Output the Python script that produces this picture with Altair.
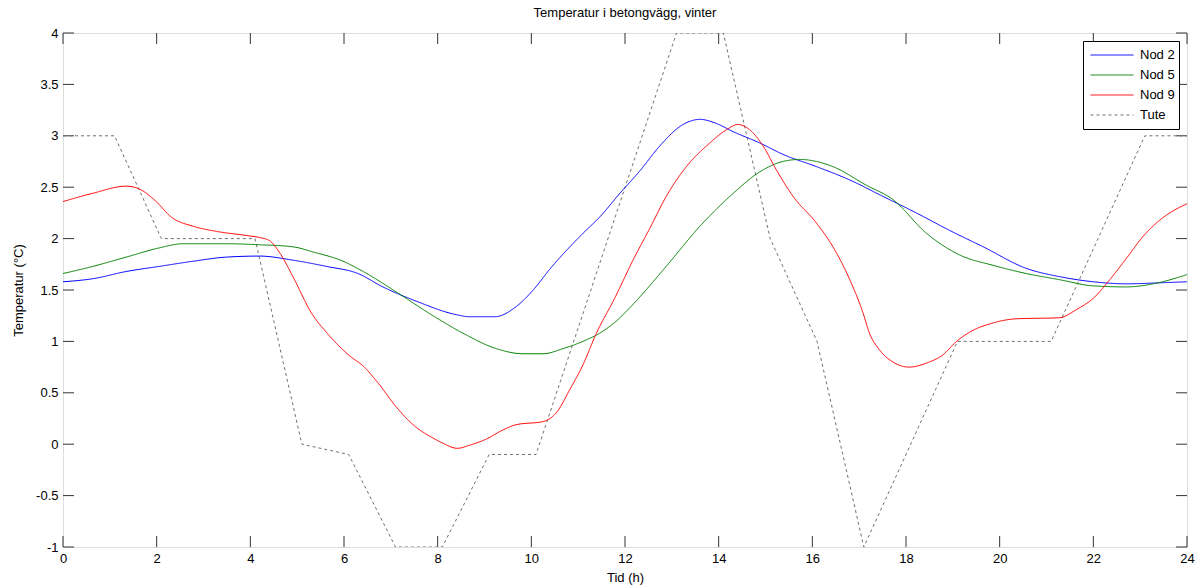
import altair as alt
import pandas as pd

# ---- data ----
nod2_t = [0, 0.64, 1.35, 2.06, 2.78, 3.49, 4.2, 4.91, 5.62, 6.3, 6.83, 7.55, 8.4, 8.68, 9.22, 9.68,
          10.04, 10.39, 11.1, 11.46, 11.89, 12.32, 12.74, 13.24, 13.6, 13.95, 14.31, 14.88, 15.37,
          16.09, 16.8, 17.51, 18.22, 18.93, 19.65, 20.57, 21.28, 22.0, 22.71, 23.42, 24]
nod2_v = [1.58, 1.61, 1.68, 1.73, 1.78, 1.82, 1.83, 1.79, 1.73, 1.66, 1.53, 1.39, 1.26, 1.24, 1.24, 1.34,
          1.50, 1.70, 2.05, 2.21, 2.44, 2.66, 2.90, 3.11, 3.16, 3.12, 3.04, 2.93, 2.82,
          2.70, 2.57, 2.41, 2.25, 2.08, 1.92, 1.71, 1.63, 1.58, 1.56, 1.57, 1.58]

nod5_t = [0, 0.64, 1.35, 2.06, 2.56, 3.49, 4.2, 4.91, 5.34, 5.98, 6.41, 7.12, 7.83, 8.54, 9.25, 9.82,
          10.25, 10.68, 11.1, 11.46, 11.82, 12.17, 12.88, 13.6, 14.31, 14.88, 15.37, 15.73, 16.44,
          17.15, 17.72, 18.44, 19.15, 19.86, 20.57, 21.28, 22.0, 22.71, 23.28, 24]
nod5_v = [1.66, 1.73, 1.82, 1.91, 1.95, 1.95, 1.94, 1.92, 1.87, 1.78, 1.68, 1.48, 1.27, 1.08, 0.93, 0.88,
          0.88, 0.93, 1.00, 1.08, 1.20, 1.36, 1.73, 2.12, 2.44, 2.65, 2.75, 2.77, 2.70,
          2.52, 2.38, 2.05, 1.84, 1.74, 1.66, 1.60, 1.54, 1.53, 1.56, 1.65]

nod9_t = [0, 0.63, 1.35, 1.64, 1.99, 2.31, 2.78, 3.28, 3.92, 4.2, 4.41, 4.63, 4.91, 5.3, 5.66, 6.12,
          6.41, 6.72, 7.12, 7.5, 7.9, 8.11, 8.42, 8.68, 9.04, 9.4, 9.68, 10.25, 10.54, 10.82, 11.1,
          11.39, 11.78, 12.17, 12.53, 12.88, 13.31, 13.81, 14.17, 14.41, 14.66, 14.95, 15.23, 15.59,
          16.09, 16.44, 16.8, 17.08, 17.22, 17.43, 17.72, 18.07, 18.44, 18.79, 19.08, 19.36, 19.86,
          20.36, 21.28, 21.64, 22.0, 22.35, 22.71, 23.06, 23.42, 24]
nod9_v = [2.36, 2.44, 2.51, 2.48, 2.36, 2.21, 2.12, 2.07, 2.03, 2.01, 1.98, 1.86, 1.63, 1.28, 1.07, 0.86,
          0.76, 0.60, 0.36, 0.18, 0.06, 0.01, -0.04, -0.01, 0.05, 0.14, 0.19, 0.22, 0.31, 0.53, 0.77,
          1.08, 1.42, 1.79, 2.10, 2.41, 2.70, 2.93, 3.06, 3.11, 3.06, 2.90, 2.67, 2.41,
          2.15, 1.92, 1.60, 1.28, 1.08, 0.92, 0.80, 0.75, 0.79, 0.87, 1.0, 1.09, 1.18,
          1.22, 1.23, 1.31, 1.42, 1.60, 1.81, 2.02, 2.18, 2.34]

tute_t = [0, 1.1, 2.1, 4.1, 5.1, 6.1, 7.1, 8.1, 9.1, 10.1, 13.1, 14.1, 15.1, 16.1, 17.1, 19.1, 21.1, 23.1, 24]
tute_v = [3, 3, 2, 2, 0, -0.1, -1, -1, -0.1, -0.1, 4, 4, 2, 1, -1, 1, 1, 3, 3]

series = ["Nod 2", "Nod 5", "Nod 9", "Tute"]
colors = ["#0000ff", "#008000", "#ff0000", "#707070"]
dashes = [[1, 0], [1, 0], [1, 0], [3, 3]]

x_ticks = list(range(0, 25, 2))
y_ticks = [-1, -0.5, 0, 0.5, 1, 1.5, 2, 2.5, 3, 3.5, 4]

title_text = "Temperatur i betongvägg, vinter"
x_title = "Tid (h)"
y_title = "Temperatur (°C)"

# ---- tables ----
smooth = pd.concat([
    pd.DataFrame({"t": nod2_t, "v": nod2_v, "serie": "Nod 2"}),
    pd.DataFrame({"t": nod5_t, "v": nod5_v, "serie": "Nod 5"}),
    pd.DataFrame({"t": nod9_t, "v": nod9_v, "serie": "Nod 9"}),
], ignore_index=True)
tute = pd.DataFrame({"t": tute_t, "v": tute_v, "serie": "Tute"})
xt = pd.DataFrame({"t": x_ticks})
yt = pd.DataFrame({"v": y_ticks})

W, H = 1124, 514
FONT = "Liberation Sans"
TICK = 11
TC = "#333333"

x_axis = alt.Axis(values=x_ticks, labelExpr="'' + datum.value", ticks=False, domain=False, grid=False,
                  labelFlush=False, labelPadding=5, labelFontSize=13, labelFont=FONT, labelColor="black",
                  title=x_title, titleFont=FONT, titleFontSize=13, titleFontWeight="normal",
                  titleColor="black", titleX=W / 2, titleY=30, titleBaseline="middle",
                  titleAlign="center")
y_axis = alt.Axis(values=y_ticks, labelExpr="'' + datum.value", ticks=False, domain=False, grid=False,
                  labelFlush=False, labelPadding=5, labelFontSize=13, labelFont=FONT, labelColor="black",
                  title=y_title, titleFont=FONT, titleFontSize=13, titleFontWeight="normal",
                  titleColor="black", titleX=-45, titleY=H / 2, titleAngle=270,
                  titleBaseline="middle", titleAlign="center")

x_scale = alt.Scale(domain=[0, 24], nice=False, zero=False)
y_scale = alt.Scale(domain=[-1, 4], nice=False, zero=False)

X = alt.X("t:Q", scale=x_scale, axis=x_axis)
Y = alt.Y("v:Q", scale=y_scale, axis=y_axis)

legend = alt.Legend(title=None, orient="none", legendX=1020, legendY=8, symbolType="stroke",
                    symbolSize=1849, symbolStrokeWidth=1, labelFontSize=13, labelFont=FONT,
                    labelColor="black", strokeColor="black", fillColor="white", padding=4,
                    clipHeight=20, rowPadding=0, symbolOffset=3, labelOffset=6)

color = alt.Color("serie:N", scale=alt.Scale(domain=series, range=colors), legend=legend)
dash = alt.StrokeDash("serie:N", scale=alt.Scale(domain=series, range=dashes), legend=legend)

smooth_lines = alt.Chart(smooth).mark_line(interpolate="monotone", strokeWidth=1, clip=True).encode(
    x=X, y=Y, color=color, strokeDash=dash, detail="serie:N")
tute_line = alt.Chart(tute).mark_line(interpolate="linear", strokeWidth=1, clip=True).encode(
    x=X, y=Y, color=color, strokeDash=dash)

xb = alt.Chart(xt).mark_rule(color=TC, strokeWidth=1).encode(x=X, y=alt.value(H), y2=alt.value(H - TICK))
xtop = alt.Chart(xt).mark_rule(color=TC, strokeWidth=1).encode(x=X, y=alt.value(0), y2=alt.value(TICK))
yl = alt.Chart(yt).mark_rule(color=TC, strokeWidth=1).encode(y=Y, x=alt.value(0), x2=alt.value(TICK))
yr = alt.Chart(yt).mark_rule(color=TC, strokeWidth=1).encode(y=Y, x=alt.value(W), x2=alt.value(W - TICK))

chart = alt.layer(xb, xtop, yl, yr, tute_line, smooth_lines).properties(
    width=W, height=H,
    title=alt.TitleParams(title_text, fontSize=13, fontWeight="normal", font=FONT, anchor="middle",
                          baseline="bottom", offset=12, dy=18, color="black"),
    autosize=alt.AutoSizeParams(type="none"),
    padding={"left": 63, "top": 33, "right": 15, "bottom": 40},
).configure_view(stroke=TC, strokeWidth=1).configure(background="white")

chart.save("out.html", embed_options={"renderer": "svg", "actions": False})
